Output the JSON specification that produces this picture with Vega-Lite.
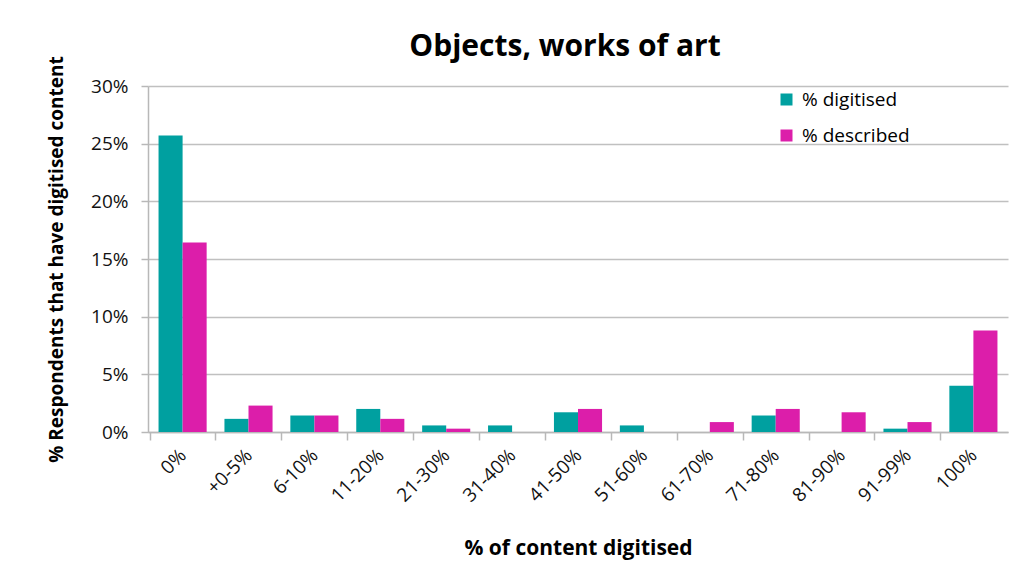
{
  "$schema": "https://vega.github.io/schema/vega-lite/v6.json",
  "width": 860,
  "height": 346,
  "autosize": "none",
  "padding": {"left": 148, "top": 86, "right": 6, "bottom": 139},
  "background": "white",
  "config": {"font": "Open Sans", "view": {"stroke": null}},
  "title": {"text": "Objects, works of art", "fontSize": 30, "fontWeight": "bold", "color": "black", "offset": -6, "dx": -13},
  "data": {"values": [
    {"bin": "0%", "series": "% digitised", "value": 0.2571},
    {"bin": "0%", "series": "% described", "value": 0.1643},
    {"bin": "+0-5%", "series": "% digitised", "value": 0.0114},
    {"bin": "+0-5%", "series": "% described", "value": 0.0229},
    {"bin": "6-10%", "series": "% digitised", "value": 0.0143},
    {"bin": "6-10%", "series": "% described", "value": 0.0143},
    {"bin": "11-20%", "series": "% digitised", "value": 0.02},
    {"bin": "11-20%", "series": "% described", "value": 0.0114},
    {"bin": "21-30%", "series": "% digitised", "value": 0.0057},
    {"bin": "21-30%", "series": "% described", "value": 0.0029},
    {"bin": "31-40%", "series": "% digitised", "value": 0.0057},
    {"bin": "31-40%", "series": "% described", "value": 0},
    {"bin": "41-50%", "series": "% digitised", "value": 0.0171},
    {"bin": "41-50%", "series": "% described", "value": 0.02},
    {"bin": "51-60%", "series": "% digitised", "value": 0.0057},
    {"bin": "51-60%", "series": "% described", "value": 0},
    {"bin": "61-70%", "series": "% digitised", "value": 0},
    {"bin": "61-70%", "series": "% described", "value": 0.0086},
    {"bin": "71-80%", "series": "% digitised", "value": 0.0143},
    {"bin": "71-80%", "series": "% described", "value": 0.02},
    {"bin": "81-90%", "series": "% digitised", "value": 0},
    {"bin": "81-90%", "series": "% described", "value": 0.0171},
    {"bin": "91-99%", "series": "% digitised", "value": 0.0029},
    {"bin": "91-99%", "series": "% described", "value": 0.0086},
    {"bin": "100%", "series": "% digitised", "value": 0.04},
    {"bin": "100%", "series": "% described", "value": 0.0879}
  ]},
  "mark": {"type": "bar"},
  "encoding": {
    "x": {
      "field": "bin", "type": "nominal",
      "sort": ["0%", "+0-5%", "6-10%", "11-20%", "21-30%", "31-40%", "41-50%", "51-60%", "61-70%", "71-80%", "81-90%", "91-99%", "100%"],
      "scale": {"paddingInner": 0.27, "paddingOuter": 0.16},
      "axis": {
        "title": "% of content digitised",
        "titleFontSize": 21, "titleFontWeight": "bold", "titleColor": "black", "titlePadding": 32,
        "labelAngle": -45, "labelAlign": "right", "labelBaseline": "middle",
        "labelFontSize": 19, "labelColor": "#111111", "labelPadding": 12,
        "tickOffset": -33.08, "labelOffset": 33.08,
        "tickSize": 8, "tickColor": "#b8b8b8", "tickWidth": 1.5,
        "domainColor": "#b8b8b8", "domainWidth": 1.5,
        "grid": false
      }
    },
    "xOffset": {"field": "series", "type": "nominal", "sort": ["% digitised", "% described"]},
    "y": {
      "field": "value", "type": "quantitative",
      "scale": {"domain": [0, 0.3]},
      "axis": {
        "title": "% Respondents that have digitised content",
        "titleFontSize": 19, "titleFontWeight": "bold", "titleColor": "black", "titlePadding": 24,
        "format": ".0%", "values": [0, 0.05, 0.1, 0.15, 0.2, 0.25, 0.3],
        "labelFontSize": 19, "labelColor": "#111111", "labelPadding": 13,
        "tickSize": 7, "tickColor": "#b8b8b8", "tickWidth": 1.5,
        "domainColor": "#b8b8b8", "domainWidth": 1.5,
        "grid": true, "gridColor": "#c0c0c0", "gridWidth": 1.5
      }
    },
    "color": {
      "field": "series", "type": "nominal",
      "scale": {"domain": ["% digitised", "% described"], "range": ["#00A0A0", "#DC1EAA"]},
      "legend": {
        "title": null, "orient": "none", "legendX": 629, "legendY": 4,
        "symbolType": "square", "symbolSize": 144, "symbolStrokeWidth": 0,
        "labelFontSize": 19, "labelColor": "black", "rowPadding": 16, "labelOffset": 6
      }
    }
  }
}
